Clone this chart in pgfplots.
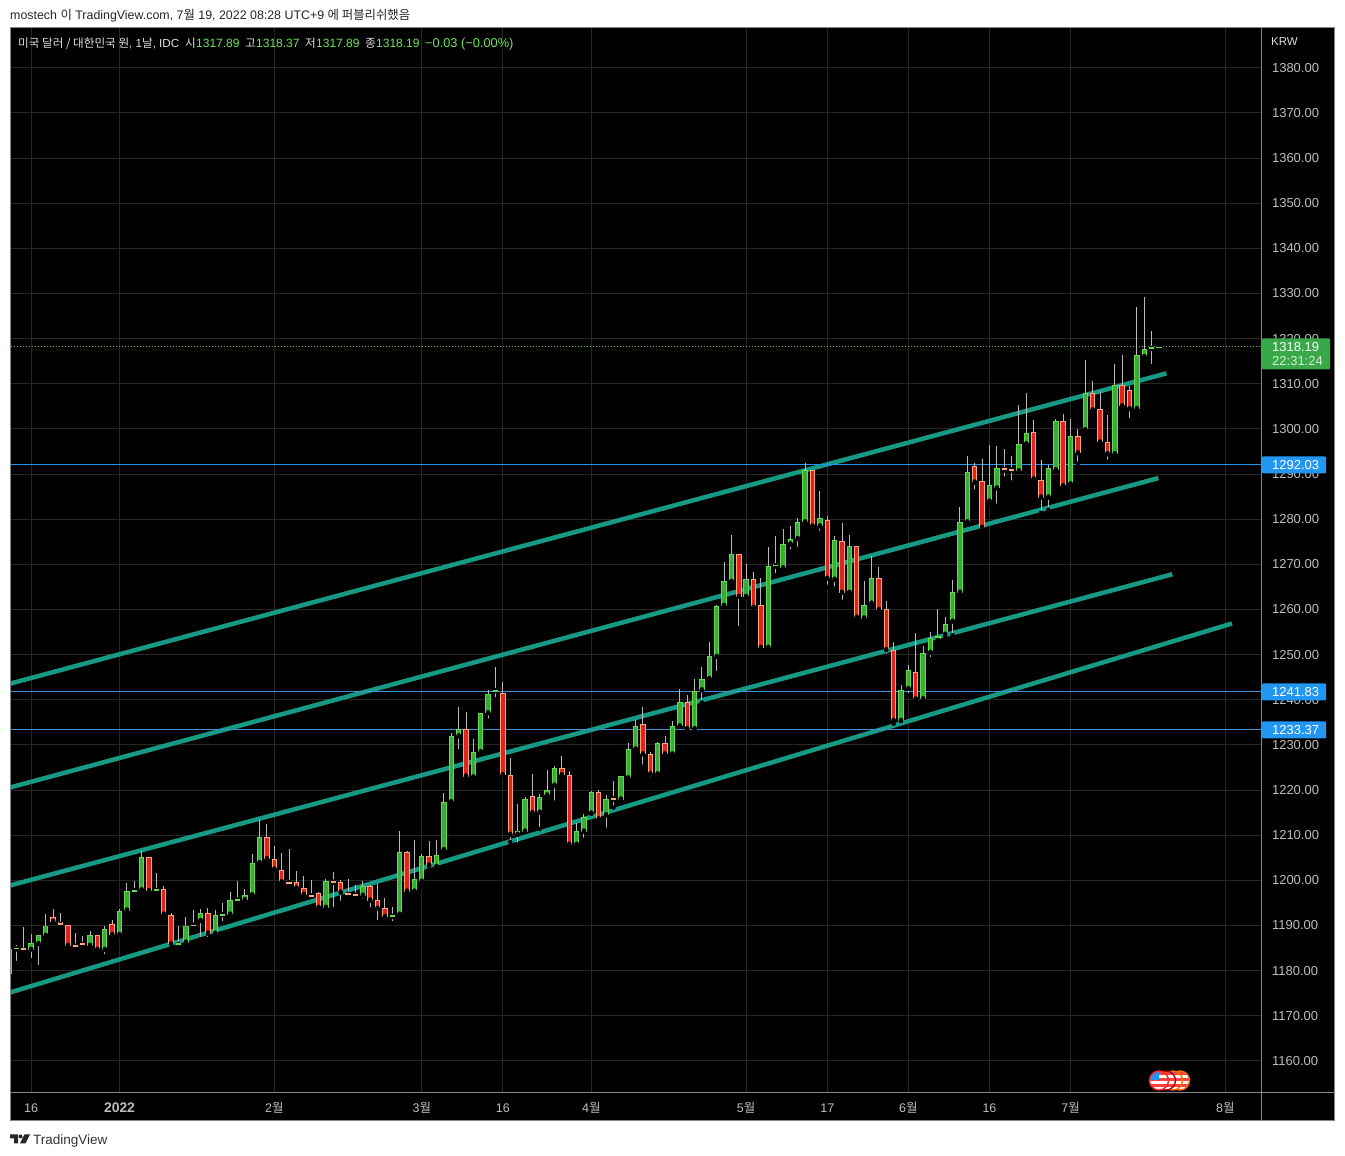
\documentclass[border=0pt]{standalone}
\usepackage{fontspec}
\usepackage{pgfplots}
\usepackage{pgfplotstable}
\pgfplotsset{compat=1.18}
\setmainfont{Liberation Sans}
\newfontfamily\cjk{Noto Sans CJK KR}

\definecolor{gridc}{HTML}{262626}
\definecolor{framec}{HTML}{858585}
\definecolor{ticktxt}{HTML}{BDBDBD}
\definecolor{teal}{HTML}{179A84}
\definecolor{wick}{HTML}{B9B9B9}
\definecolor{upfill}{HTML}{3BAA3B}
\definecolor{upedge}{HTML}{66DA4E}
\definecolor{dnfill}{HTML}{E0241C}
\definecolor{dnedge}{HTML}{FFA67C}
\definecolor{hblue}{HTML}{2196F3}
\definecolor{hblue2}{HTML}{3C93D8}
\definecolor{lastg}{HTML}{45C455}
\definecolor{tagg}{HTML}{39A849}
\definecolor{valg}{HTML}{6BE852}

% i open high low close, green candles
\pgfplotstableread{
i o h l c
0 1179.3 1184.9 1179.3 1184.9
1 1184.7 1185.6 1181.7 1185.1
3 1184.6 1188.1 1182.3 1186.2
4 1185.9 1187.8 1180.8 1187.8
5 1187.7 1192.5 1187.7 1190.0
11 1185.5 1188.7 1185.5 1188.0
13 1184.6 1189.9 1183.2 1189.3
15 1187.9 1193.6 1187.9 1193.3
16 1193.3 1199.4 1193.3 1197.6
17 1197.6 1199.9 1197.0 1197.8
18 1197.8 1206.5 1197.8 1205.1
20 1197.6 1201.6 1197.6 1198.0
23 1185.7 1189.9 1185.0 1186.0
24 1186.2 1191.9 1186.2 1190.0
26 1191.0 1193.6 1187.0 1192.7
28 1188.2 1193.4 1187.7 1192.4
29 1192.3 1195.0 1190.5 1192.5
30 1192.4 1197.4 1192.4 1195.6
31 1195.5 1199.9 1195.5 1195.7
32 1195.6 1198.1 1194.7 1196.7
33 1196.7 1205.9 1196.7 1203.8
34 1203.8 1213.4 1203.8 1209.6
43 1193.9 1200.2 1193.9 1199.8
48 1196.6 1199.9 1195.5 1198.7
52 1191.9 1194.1 1190.5 1192.4
53 1192.4 1211.0 1192.4 1206.2
55 1197.5 1209.0 1197.5 1200.2
56 1199.7 1205.9 1198.7 1205.3
58 1203.0 1209.0 1203.0 1205.6
59 1206.7 1219.4 1206.7 1217.4
60 1217.3 1232.7 1217.3 1232.0
61 1231.9 1238.5 1228.6 1233.6
63 1222.8 1231.2 1222.8 1228.4
64 1228.4 1237.1 1228.4 1237.1
65 1237.0 1242.1 1235.4 1241.3
66 1241.9 1247.2 1240.1 1242.1
69 1210.1 1216.9 1207.9 1210.9
70 1210.8 1218.5 1210.8 1218.0
72 1215.0 1219.2 1211.4 1218.4
73 1218.8 1224.5 1217.9 1220.0
74 1221.0 1225.3 1217.2 1224.9
77 1207.9 1212.7 1207.7 1210.9
78 1210.8 1214.7 1209.0 1214.0
79 1214.8 1219.9 1214.8 1219.6
81 1214.4 1218.9 1211.2 1218.0
83 1217.9 1223.1 1217.5 1223.1
84 1222.6 1230.4 1222.1 1229.1
85 1229.0 1235.6 1229.0 1234.2
88 1223.5 1230.6 1223.5 1230.4
90 1227.9 1235.3 1227.9 1234.2
91 1234.1 1242.3 1234.1 1239.6
93 1233.5 1244.6 1233.5 1242.0
94 1242.1 1247.2 1239.4 1244.7
95 1244.6 1252.7 1244.6 1249.6
96 1249.5 1260.9 1245.9 1260.7
97 1260.8 1270.5 1260.8 1266.2
98 1266.1 1276.5 1266.1 1272.2
100 1262.8 1270.1 1262.8 1266.7
103 1251.5 1273.9 1250.8 1269.6
104 1269.5 1276.3 1267.6 1270.0
105 1269.1 1277.9 1269.1 1274.4
106 1274.4 1278.5 1272.8 1275.6
107 1275.6 1280.2 1273.4 1279.3
108 1279.3 1292.5 1279.3 1290.9
110 1278.4 1286.3 1277.0 1280.2
112 1266.6 1276.3 1264.6 1275.3
114 1263.7 1276.5 1263.7 1274.0
116 1258.0 1266.3 1258.0 1261.1
117 1261.3 1271.8 1260.8 1266.9
121 1235.3 1243.2 1235.3 1242.2
122 1242.4 1247.6 1241.0 1246.7
124 1240.1 1251.9 1239.5 1250.4
125 1250.4 1255.0 1249.0 1253.6
126 1253.5 1260.1 1253.5 1254.2
127 1254.4 1258.3 1253.9 1256.7
128 1257.3 1266.5 1254.3 1263.8
129 1263.7 1282.7 1263.7 1279.3
130 1279.3 1294.0 1279.0 1290.4
133 1283.9 1296.5 1283.4 1287.6
134 1286.8 1296.3 1283.0 1291.3
137 1290.6 1305.2 1290.6 1296.7
138 1296.6 1307.9 1296.6 1299.1
141 1284.8 1292.1 1282.1 1291.3
142 1290.8 1302.1 1290.8 1301.8
144 1287.7 1302.3 1287.7 1298.4
146 1299.7 1315.2 1299.2 1308.0
150 1294.4 1314.3 1294.4 1309.8
153 1304.4 1327.0 1304.4 1316.4
154 1315.9 1329.2 1315.9 1317.8
155 1317.7 1321.6 1313.9 1318.2
156 1317.89 1318.37 1317.89 1318.19
}\upcandles

% red candles
\pgfplotstableread{
i o h l c
2 1185.1 1189.6 1184.4 1184.4
6 1191.8 1193.6 1190.8 1190.8
7 1190.7 1192.7 1190.1 1190.1
8 1190.2 1190.2 1185.3 1185.5
9 1185.6 1188.3 1185.3 1185.3
10 1186.0 1187.6 1185.7 1185.7
12 1188.0 1188.0 1184.6 1184.6
14 1190.4 1191.2 1187.0 1187.9
19 1205.1 1205.1 1197.6 1197.6
21 1198.0 1198.7 1192.4 1192.4
22 1192.4 1192.7 1185.8 1185.8
25 1190.1 1193.4 1189.9 1189.9
27 1192.7 1193.9 1187.0 1188.2
35 1209.6 1212.5 1204.7 1204.7
36 1204.7 1207.6 1202.4 1202.4
37 1202.4 1206.1 1199.3 1199.6
38 1199.6 1207.0 1199.4 1199.4
39 1199.6 1202.1 1197.5 1198.2
40 1198.2 1200.9 1196.8 1196.8
41 1196.8 1200.0 1196.4 1196.4
42 1197.1 1197.4 1193.4 1193.9
44 1199.8 1201.9 1193.6 1199.5
45 1199.6 1200.1 1195.0 1197.3
46 1197.3 1200.3 1195.9 1196.8
47 1196.9 1199.0 1195.9 1196.6
49 1198.7 1199.0 1193.6 1195.5
50 1195.6 1199.3 1190.7 1193.7
51 1193.8 1196.1 1191.2 1191.9
54 1206.2 1206.4 1197.5 1197.5
57 1205.3 1208.7 1202.6 1203.3
62 1233.6 1237.4 1223.0 1223.0
67 1241.6 1243.9 1223.3 1223.3
68 1223.3 1227.1 1208.5 1210.1
71 1218.7 1223.6 1214.7 1214.9
75 1224.9 1227.6 1222.5 1223.3
76 1223.3 1224.3 1207.5 1207.9
80 1219.6 1220.0 1213.5 1213.5
82 1218.1 1221.9 1216.1 1217.9
86 1234.7 1238.3 1225.2 1227.9
87 1228.0 1228.4 1222.5 1223.5
89 1230.4 1231.9 1227.4 1227.9
92 1239.6 1241.0 1233.3 1233.5
99 1272.2 1272.2 1255.9 1262.8
101 1266.7 1268.3 1260.4 1260.4
102 1260.9 1267.0 1250.8 1251.5
109 1290.9 1290.9 1278.4 1278.4
111 1279.8 1280.7 1265.0 1266.8
113 1275.1 1279.2 1261.7 1263.7
115 1274.0 1274.0 1258.2 1258.2
118 1266.9 1269.4 1259.7 1259.9
119 1260.0 1261.9 1249.7 1251.0
120 1251.1 1252.9 1234.7 1235.3
123 1246.2 1254.7 1240.1 1240.1
131 1291.8 1292.4 1286.1 1288.1
132 1288.4 1293.4 1278.1 1278.1
135 1291.3 1295.6 1289.0 1290.8
136 1291.0 1294.1 1288.1 1290.8
139 1299.3 1302.0 1288.3 1288.8
140 1288.7 1293.2 1281.4 1284.8
143 1301.8 1303.4 1287.3 1287.3
145 1298.4 1299.9 1292.3 1294.6
147 1308.0 1310.5 1303.4 1304.1
148 1304.4 1308.3 1296.3 1297.0
149 1297.1 1303.0 1292.7 1294.4
151 1309.8 1316.3 1305.0 1305.0
152 1308.7 1309.6 1301.9 1304.4
}\downcandles

% wicks and bodies as upward error bars from the low / body bottom
\newcommand{\wicks}[1]{
  \addplot[only marks, mark=none, forget plot,
    error bars/.cd, y dir=plus, y explicit, error mark=none,
    error bar style={line width=1pt, color=wick}]
    table[x=i, y=l, y error plus expr=\thisrow{h}-\thisrow{l}] {#1};
}
% the flattest candles get a dash, the error bars drop them
\newcommand{\bodies}[3]{
  \addplot[only marks, mark=none, forget plot,
    error bars/.cd, y dir=plus, y explicit, error mark=none,
    error bar style={line width=5.4pt, color=#2}]
    table[x=i, y expr={min(\thisrow{o},\thisrow{c})},
      y error plus expr={abs(\thisrow{o}-\thisrow{c})}] {#1};
  \addplot[only marks, mark=none, forget plot,
    error bars/.cd, y dir=plus, y explicit, error mark=none,
    error bar style={line width=3.4pt, color=#3}]
    table[x=i, y expr={min(\thisrow{o},\thisrow{c})+0.22},
      y error plus expr={max(abs(\thisrow{o}-\thisrow{c})-0.44,0)}] {#1};
  \addplot[only marks, mark=-, mark size=2.7pt, forget plot,
    unbounded coords=discard, mark options={draw=#2, line width=1.8pt}]
    table[x=i, y expr={abs(\thisrow{o}-\thisrow{c})<0.8 ? (\thisrow{o}+\thisrow{c})/2 : nan}] {#1};
}

\begin{document}
\begin{tikzpicture}
\fill[white] (0,0) rectangle (1345pt,1156pt);
\path[use as bounding box] (0,0) rectangle (1345pt,1156pt);
\fill[black] (10.5pt,36pt) rectangle (1334pt,1129pt);

\begin{axis}[
    at={(10.5pt,63pt)}, anchor=south west,
    scale only axis, width=1251pt, height=1065pt,
    xmin=0.213, xmax=169.9, ymin=1152.9, ymax=1388.8,
    axis line style={draw=none},
    major tick length=0pt,
    grid=major, grid style={color=gridc, line width=1pt},
    ytick={1160,1170,...,1380},
    yticklabel pos=right,
    yticklabel style={anchor=west, xshift=7pt, text=ticktxt,
      font=\fontsize{13}{15}\selectfont,
      /pgf/number format/.cd, fixed, fixed zerofill, precision=2,
      1000 sep={}, assume math mode=true},
    xtick={3,15,36,56,67,79,100,111,122,133,144,165},
    xticklabels={16,{\fontsize{13.9}{15}\selectfont\bfseries 2022},2{\cjk 월},3{\cjk 월},16,4{\cjk 월},5{\cjk 월},17,6{\cjk 월},16,7{\cjk 월},8{\cjk 월}},
    xticklabel style={anchor=base, yshift=-19.5pt, text=ticktxt,
      font=\fontsize{12.5}{15}\selectfont},
]
% channel lines
\addplot[teal, line width=4.5pt] coordinates {(0.213,1243.6) (157.0,1312.3)};
\addplot[teal, line width=4.5pt] coordinates {(0.213,1220.6) (155.9,1289.1)};
\addplot[teal, line width=4.5pt] coordinates {(0.213,1198.9) (157.8,1267.8)};
\addplot[teal, line width=4.5pt] coordinates {(0.213,1175.2) (165.9,1256.9)};
% horizontal levels
\addplot[hblue, line width=1pt] coordinates {(0.213,1292.03) (169.9,1292.03)};
\addplot[hblue2, line width=1pt] coordinates {(0.213,1241.83) (169.9,1241.83)};
\addplot[hblue2, line width=1pt] coordinates {(0.213,1233.37) (169.9,1233.37)};
\addplot[lastg, line width=1pt, dash pattern=on 1pt off 2pt] coordinates {(0.213,1318.19) (169.9,1318.19)};
% candles
\wicks{\upcandles}
\wicks{\downcandles}
\bodies{\upcandles}{upedge}{upfill}
\bodies{\downcandles}{dnedge}{dnfill}
\end{axis}

\begin{scope}[x=1pt, y=-1pt, yshift=1155.5pt, every node/.style={inner sep=0pt, anchor=base west}]
% frame
\draw[framec, line width=1pt] (10.5,27.5) rectangle (1334,1120);
\draw[framec, line width=1pt] (1261.5,27.5) -- (1261.5,1120);
\draw[framec, line width=1pt] (10.5,1092.5) -- (1334,1092.5);
% price tags
\fill[tagg, rounded corners=1pt] (1262,338) rectangle (1330,369);
\fill[hblue, rounded corners=1pt] (1262,456) rectangle (1326,473);
\fill[hblue, rounded corners=1pt] (1262,683) rectangle (1326,700);
\fill[hblue, rounded corners=1pt] (1262,721) rectangle (1326,738);
\begin{scope}[every node/.append style={font=\fontsize{13}{15}\selectfont, text=white}]
\node at (1272,351.5) {1318.19};
\node[text=white!80!tagg] at (1272,365) {22:31:24};
\node at (1272,469) {1292.03};
\node at (1272,696) {1241.83};
\node at (1272,734) {1233.37};
\end{scope}
% header
\node[font=\fontsize{12.4}{14}\selectfont, text=black!85] at (10,19) {mostech {\cjk 이} TradingView.com, 7{\cjk 월} 19, 2022 08:28 UTC+9 {\cjk 에 퍼블리쉬했음}};
\begin{scope}[every node/.append style={font=\fontsize{11.6}{14}\selectfont, text=white!88!black}]
\node at (18,47) {{\cjk 미국 달러 / 대한민국 원}, 1{\cjk 날}, IDC};
\node at (185,47) {\cjk 시};
\node at (245,47) {\cjk 고};
\node at (305,47) {\cjk 저};
\node at (365,47) {\cjk 종};
\end{scope}
\begin{scope}[every node/.append style={font=\fontsize{12}{14}\selectfont, text=valg}]
\node at (196,47) {1317.89};
\node at (256,47) {1318.37};
\node at (316,47) {1317.89};
\node at (376,47) {1318.19};
\node[font=\fontsize{12.8}{14}\selectfont] at (425,47) {−0.03 (−0.00\%)};
\end{scope}
\node[font=\fontsize{11.5}{14}\selectfont, text=white!85!black] at (1271,45) {KRW};
% dividend flags, rightmost first
\foreach \cx/\col in {1180/orange!85!red, 1173/orange!85!red, 1166/red!70!black, 1159/red!85!white} {
  \begin{scope}
    \clip (\cx,1080) circle (9.5);
    \fill[white] (\cx-10,1070) rectangle (\cx+10,1090);
    \fill[red!75!white] (\cx-10,1072) rectangle (\cx+10,1075);
    \fill[red!75!white] (\cx-10,1078) rectangle (\cx+10,1081);
    \fill[red!75!white] (\cx-10,1084) rectangle (\cx+10,1087);
    \fill[hblue] (\cx-10,1070) rectangle (\cx,1080);
  \end{scope}
  \draw[\col, line width=1.4pt] (\cx,1080) circle (9.5);
}
% logo
\fill[black!85] (10,1134) -- (18,1134) -- (18,1143) -- (14,1143) -- (14,1138) -- (10,1138) -- cycle;
\fill[black!85] (20.6,1136) circle (2);
\fill[black!85] (24.5,1134) -- (30,1134) -- (25.5,1143) -- (20,1143) -- cycle;
\node[font=\fontsize{13.5}{15}\selectfont, text=black!80] at (33,1144) {TradingView};
\end{scope}
\end{tikzpicture}
\end{document}
